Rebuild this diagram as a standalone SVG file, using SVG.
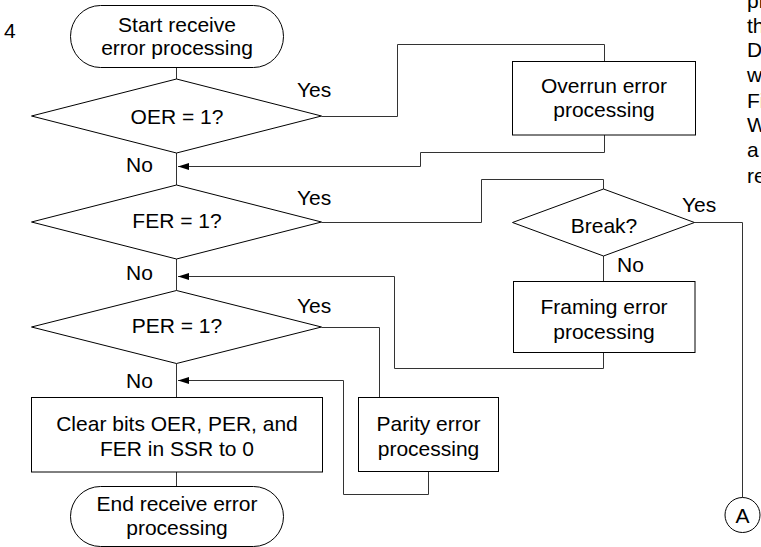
<svg xmlns="http://www.w3.org/2000/svg" width="761" height="547" viewBox="0 0 761 547">
<style>
text{font-family:"Liberation Sans",Arial,sans-serif;font-size:21px;fill:#000}
.c{text-anchor:middle}
.shape{fill:#fff;stroke:#000;stroke-width:1}
.conn{fill:none;stroke:#333;stroke-width:1}
</style>
<defs>
<marker id="arr" markerWidth="12" markerHeight="8" refX="11" refY="4" orient="auto" markerUnits="userSpaceOnUse">
<path d="M11,4 L0,0.5 L0,7.5 Z" fill="#000"/>
</marker>
</defs>
<rect width="761" height="547" fill="#fff"/>
<text x="4" y="38">4</text>
<g id="sidetext">
<text x="747" y="8">pr</text>
<text x="747" y="33">th</text>
<text x="747" y="57">D</text>
<text x="747" y="82">w</text>
<text x="747" y="108">Fi</text>
<text x="747" y="132">W</text>
<text x="747" y="157">a</text>
<text x="747" y="183">re</text>
</g>
<g id="connectors">
<path class="conn" d="M176.5,67.5 V79"/>
<path class="conn" d="M176.5,153 V185"/>
<path class="conn" d="M176.5,259 V290.5"/>
<path class="conn" d="M176.5,363.5 V397.5"/>
<path class="conn" d="M176.5,472 V486.5"/>
<path class="conn" d="M321.5,116.5 H397.5 V44.5 H604.5 V61.5"/>
<path class="conn" d="M604.5,135 V152.5 H420.5 V166.5 H178" marker-end="url(#arr)"/>
<path class="conn" d="M321.5,222.5 H481.5 V179.5 H603.5 V189"/>
<path class="conn" d="M694.5,222.5 H742.5 V497.5"/>
<path class="conn" d="M603.5,256 V281.5"/>
<path class="conn" d="M603.5,352.5 V368.5 H394.5 V276.5 H178" marker-end="url(#arr)"/>
<path class="conn" d="M321.5,327.5 H379.5 V397.5"/>
<path class="conn" d="M428.5,471.5 V494.5 H343.5 V380.5 H178" marker-end="url(#arr)"/>
</g>
<g id="labels">
<text x="297" y="97">Yes</text>
<text x="297" y="205">Yes</text>
<text x="297" y="313">Yes</text>
<text x="682" y="212">Yes</text>
<text x="617" y="272">No</text>
<text x="126" y="172">No</text>
<text x="126" y="280">No</text>
<text x="126" y="388">No</text>
</g>
<g id="start">
<rect class="shape" x="70.5" y="5.5" width="213" height="62" rx="30" ry="31"/>
<text class="c" x="177" y="32">Start receive</text>
<text class="c" x="177" y="55">error processing</text>
</g>
<g id="oer">
<polygon class="shape" points="176.5,79 321.5,116 176.5,153 31.5,116"/>
<text class="c" x="177" y="124">OER = 1?</text>
</g>
<g id="overrun">
<rect class="shape" x="512.5" y="61.5" width="183" height="73.5"/>
<text class="c" x="604" y="92.5">Overrun error</text>
<text class="c" x="604" y="117">processing</text>
</g>
<g id="fer">
<polygon class="shape" points="176.5,185 321.5,222 176.5,259 31.5,222"/>
<text class="c" x="177" y="227.5">FER = 1?</text>
</g>
<g id="break">
<polygon class="shape" points="603.5,189 694.5,222.5 603.5,256 512.5,222.5"/>
<text class="c" x="604" y="233">Break?</text>
</g>
<g id="framing">
<rect class="shape" x="513.5" y="281.5" width="181.5" height="71"/>
<text class="c" x="604" y="314">Framing error</text>
<text class="c" x="604" y="339">processing</text>
</g>
<g id="per">
<polygon class="shape" points="176.5,290.5 321.5,327 176.5,363.5 31.5,327"/>
<text class="c" x="177" y="333">PER = 1?</text>
</g>
<g id="parity">
<rect class="shape" x="358.5" y="397.5" width="140" height="74"/>
<text class="c" x="428.5" y="431">Parity error</text>
<text class="c" x="428.5" y="456">processing</text>
</g>
<g id="clear">
<rect class="shape" x="31.5" y="397.5" width="291" height="74.5"/>
<text class="c" x="177" y="431">Clear bits OER, PER, and</text>
<text class="c" x="177" y="456">FER in SSR to 0</text>
</g>
<g id="end">
<rect class="shape" x="70.5" y="486.5" width="213" height="60" rx="30" ry="30"/>
<text class="c" x="177" y="511">End receive error</text>
<text class="c" x="177" y="535">processing</text>
</g>
<g id="connectorA">
<circle class="shape" cx="742.5" cy="515" r="17.5"/>
<text class="c" x="742.5" y="522.5">A</text>
</g>
</svg>
